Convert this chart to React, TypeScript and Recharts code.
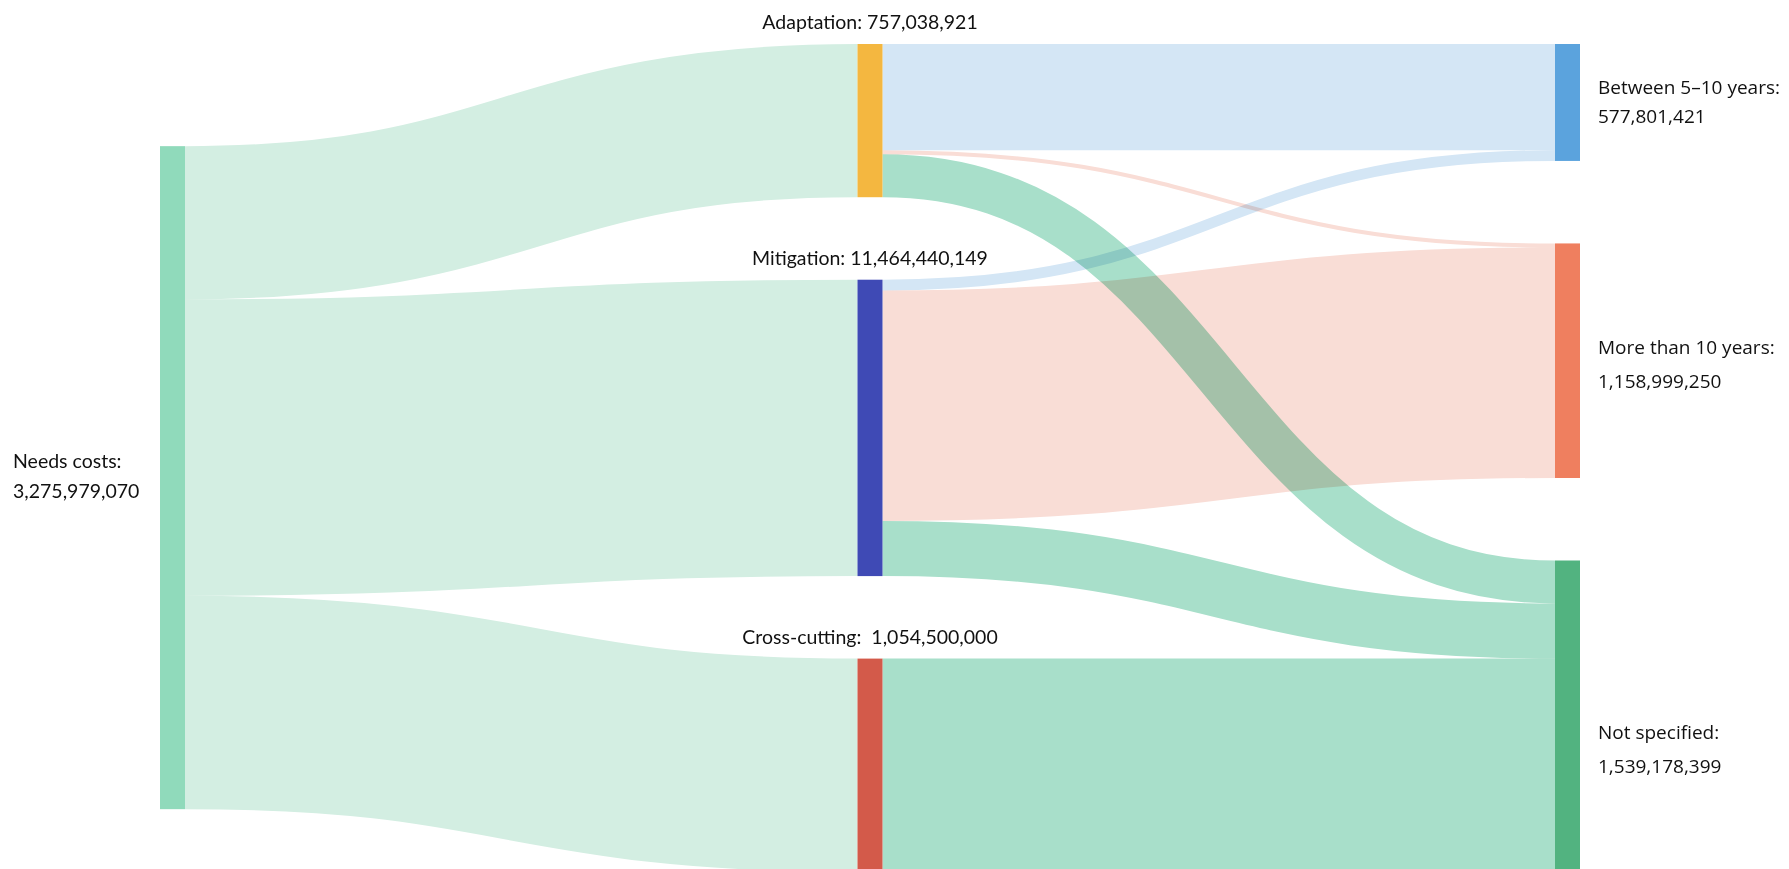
import { Sankey } from "recharts";

const nodeNames = [
  "Needs costs",
  "Adaptation",
  "Mitigation",
  "Cross-cutting",
  "Between 5–10 years",
  "More than 10 years",
  "Not specified",
];
// numbers as printed on the chart
const nodeAmounts = [
  "3,275,979,070",
  "757,038,921",
  "11,464,440,149",
  "1,054,500,000",
  "577,801,421",
  "1,158,999,250",
  "1,539,178,399",
];
const nodeColors = ["#90dabb", "#f4b740", "#3f4ab5", "#d35a4a", "#5ba3dd", "#ef7f5f", "#52b380"];
// link colour is picked by the target node
const linkColors = ["#d3eee2", "#d3eee2", "#d3eee2", "#d3eee2", "#d4e6f5", "#f9ddd6", "#a8dfca"];

const linkSources = [0, 0, 0, 1, 1, 1, 2, 2, 2, 3];
const linkTargets = [1, 2, 3, 4, 5, 6, 4, 5, 6, 6];
const linkValues = [
  757038921, 1464440149, 1054500000,
  525000000, 20000000, 212038921,
  52801421, 1138999250, 272639478,
  1054500000,
];

const data = {
  nodes: nodeNames.map((name) => ({ name })),
  links: linkSources.map((s, i) => ({ source: s, target: linkTargets[i], value: linkValues[i] })),
};

const labelFont = "Lato, 'Open Sans', sans-serif";
const rightFont = "'Open Sans', sans-serif";
// vertical shift of the two-line labels on the right column
const rightLabelShift: Record<number, number> = { 4: 0, 5: 2, 6: 32 };

function SankeyLink(props: any) {
  const { sourceX, sourceY, sourceControlX, targetX, targetY, targetControlX, linkWidth, payload } = props;
  const t = nodeNames.indexOf(payload.target.name);
  return (
    <path
      d={`M${sourceX},${sourceY} C${sourceControlX},${sourceY} ${targetControlX},${targetY} ${targetX},${targetY}`}
      fill="none"
      stroke={linkColors[t]}
      strokeWidth={linkWidth}
      style={{ mixBlendMode: "multiply" }}
    />
  );
}

function SankeyNode(props: any) {
  const { x, y, width, height, payload } = props;
  const i = nodeNames.indexOf(payload.name);
  const cy = y + height / 2;
  let label = null;
  if (payload.depth === 0) {
    label = (
      <text fontFamily={labelFont} fontSize={19.5} fill="#111">
        <tspan x={x - 147} y={cy - 15} dominantBaseline="middle">{nodeNames[i] + ":"}</tspan>
        <tspan x={x - 147} y={cy + 15} dominantBaseline="middle">{nodeAmounts[i]}</tspan>
      </text>
    );
  } else if (payload.depth === 1) {
    const gap = i === 3 ? ":  " : ": ";
    label = (
      <text
        x={x + width / 2}
        y={y - 20}
        textAnchor="middle"
        dominantBaseline="middle"
        fontFamily={labelFont}
        fontSize={19.5}
        fill="#111"
        style={{ whiteSpace: "pre" }}
      >
        {nodeNames[i] + gap + nodeAmounts[i]}
      </text>
    );
  } else {
    const ly = cy + (rightLabelShift[i] || 0);
    const spacing = i === 4 ? 29 : 34;
    label = (
      <text fontFamily={rightFont} fontSize={19} fill="#111">
        <tspan x={x + width + 18} y={ly - 14} dominantBaseline="middle">{nodeNames[i] + ":"}</tspan>
        <tspan x={x + width + 18} y={ly - 14 + spacing} dominantBaseline="middle">{nodeAmounts[i]}</tspan>
      </text>
    );
  }
  return (
    <g>
      <rect x={x} y={y} width={width} height={height} fill={nodeColors[i]} />
      {label}
    </g>
  );
}

export default function App() {
  return (
    <div style={{ width: 1781, height: 861, overflow: "hidden", background: "#fff" }}>
      <Sankey
        width={1781}
        height={900}
        data={data}
        nodeWidth={25}
        nodePadding={82.5}
        sort={false}
        margin={{ top: 36, left: 152, right: 209, bottom: 36 }}
        link={<SankeyLink />}
        node={<SankeyNode />}
      />
    </div>
  );
}
